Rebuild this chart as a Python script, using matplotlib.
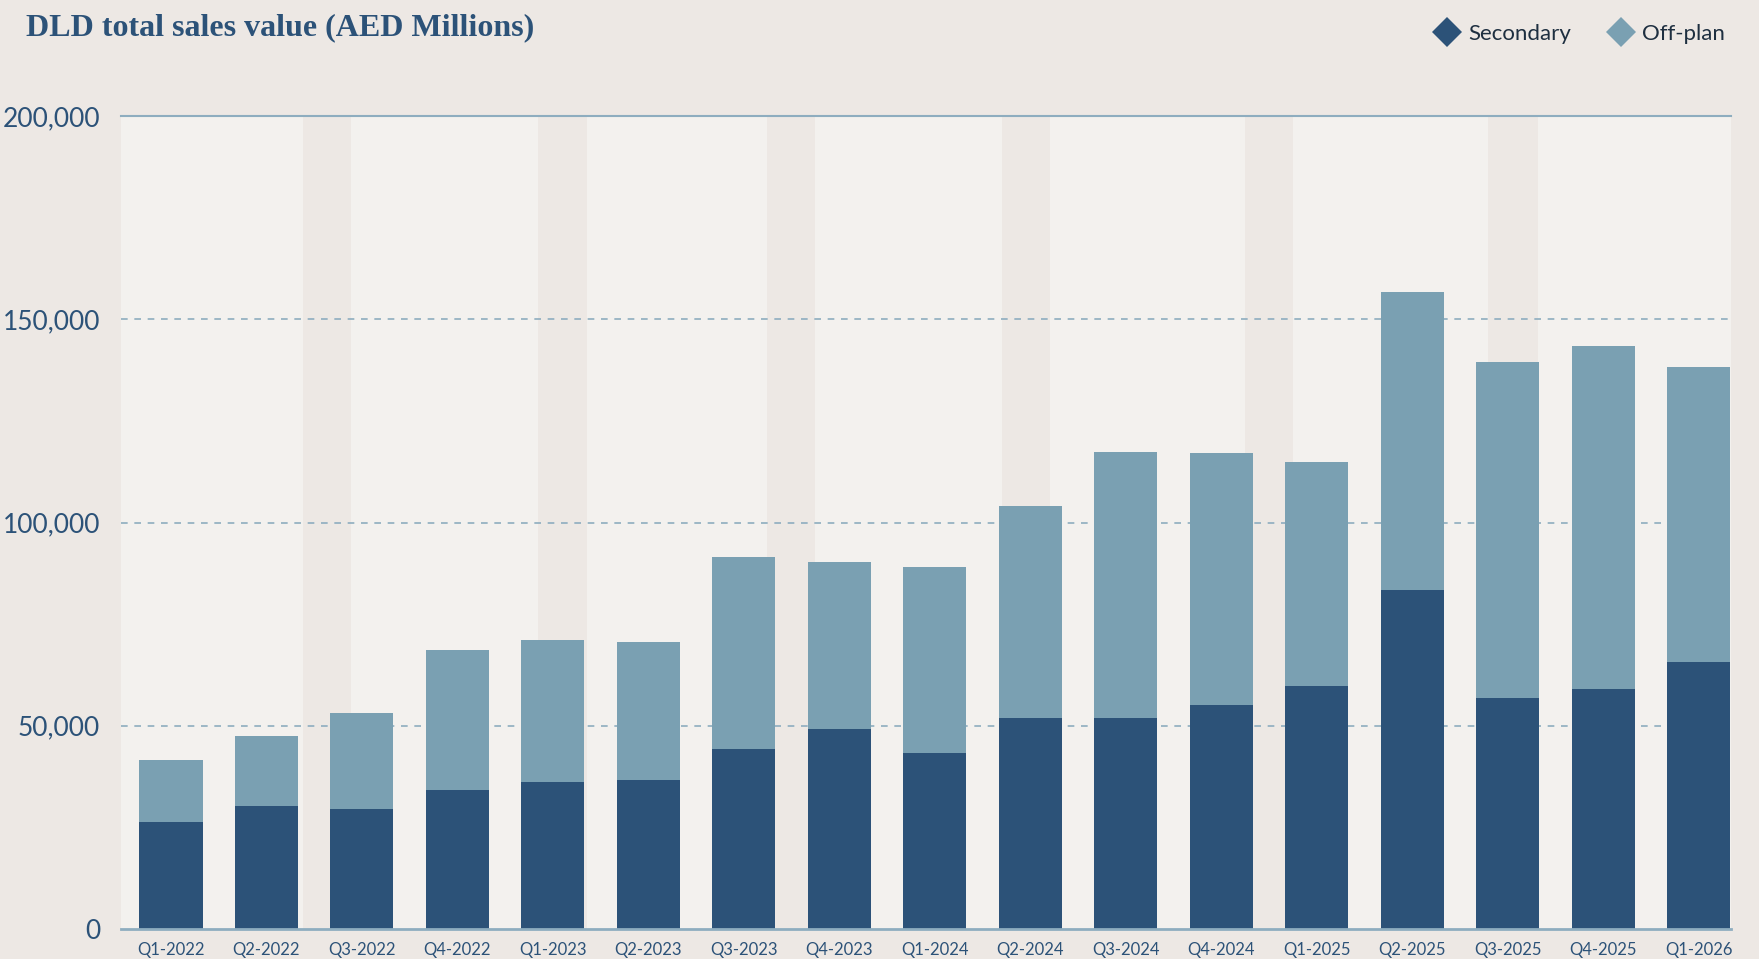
import matplotlib
matplotlib.use("Agg")
import matplotlib.pyplot as plt
from matplotlib.patches import Rectangle
from matplotlib.lines import Line2D
from matplotlib.ticker import FuncFormatter
import numpy as np

quarters = ["Q1-2022", "Q2-2022", "Q3-2022", "Q4-2022", "Q1-2023", "Q2-2023",
            "Q3-2023", "Q4-2023", "Q1-2024", "Q2-2024", "Q3-2024", "Q4-2024",
            "Q1-2025", "Q2-2025", "Q3-2025", "Q4-2025", "Q1-2026"]
secondary = [26400, 30300, 29600, 34200, 36200, 36700, 44400, 49100, 43200,
             51800, 51800, 55000, 59700, 83500, 56900, 59000, 65800]
total = [41600, 47400, 53200, 68700, 71200, 70600, 91500, 90200, 89100,
         104000, 117300, 117000, 114800, 156700, 139500, 143400, 138200]
offplan = [t - s for t, s in zip(total, secondary)]
yticks = [0, 50000, 100000, 150000, 200000]

C_SEC = "#2C5278"
C_OFF = "#7AA0B2"
C_FIG = "#EDE8E4"
C_PLOT = "#F3F1EE"
C_GRID = "#8EADBF"
C_TXT = "#2C5278"

W, H = 1759, 959
fig = plt.figure(figsize=(W / 100, H / 100), dpi=100, facecolor=C_FIG)
ax = fig.add_axes([121 / W, 1 - 929 / H, (1731 - 121) / W, (929 - 116) / H])
ax.set_facecolor(C_PLOT)

# decorative darker stripes
stripes = [(0.1130, 0.1429), (0.2590, 0.2894), (0.4012, 0.4311),
           (0.5472, 0.5770), (0.6981, 0.7280), (0.8491, 0.8801)]
for a, b in stripes:
    ax.add_patch(Rectangle((a, 0), b - a, 1, transform=ax.transAxes,
                           facecolor=C_FIG, edgecolor="none", zorder=0))

x = np.arange(len(quarters))
bw = 0.66
ax.bar(x, secondary, width=bw, color=C_SEC, zorder=3)
ax.bar(x, offplan, width=bw, bottom=secondary, color=C_OFF, zorder=3)

ax.set_xlim(-0.5237, 16.34)
ax.set_ylim(0, 200000)

for v in yticks[1:-1]:
    ax.axhline(v, color=C_GRID, lw=1.2, ls=(0, (4, 4)), zorder=1)
ax.axhline(200000, color=C_GRID, lw=1.5, zorder=4, clip_on=False)
ax.axhline(0, color=C_GRID, lw=2, zorder=4, clip_on=False)

for s in ax.spines.values():
    s.set_visible(False)

ax.set_yticks(yticks)
ax.yaxis.set_major_formatter(FuncFormatter(lambda v, p: f"{int(v):,}"))
ax.tick_params(axis="y", length=0, pad=15, labelsize=19, labelcolor=C_TXT)
for lab in ax.get_yticklabels():
    lab.set_fontfamily("Lato")
    lab.set_fontweight("normal")

ax.set_xticks(x)
ax.set_xticklabels(quarters)
ax.tick_params(axis="x", length=0, pad=9, labelsize=12, labelcolor=C_TXT)
for lab in ax.get_xticklabels():
    lab.set_fontfamily("Lato")
    lab.set_fontweight("normal")

fig.text(26 / W, 1 - 35 / H, "DLD total sales value (AED Millions)",
         family="Liberation Serif", fontweight="bold", fontsize=23,
         color=C_SEC, va="baseline", ha="left")

# legend
for cx, tx, lab, col in [(1447, 1468, "Secondary", C_SEC), (1621, 1642, "Off-plan", C_OFF)]:
    fig.add_artist(Line2D([cx / W], [1 - 32 / H], marker="D", markersize=15,
                          color=col, markeredgewidth=0, linestyle="none",
                          transform=fig.transFigure))
    fig.text(tx / W, 1 - 32 / H, lab, family="Lato", fontsize=16,
             color="#1E2F40", va="center_baseline", ha="left")

fig.savefig("out.png", dpi=100, facecolor=C_FIG)
